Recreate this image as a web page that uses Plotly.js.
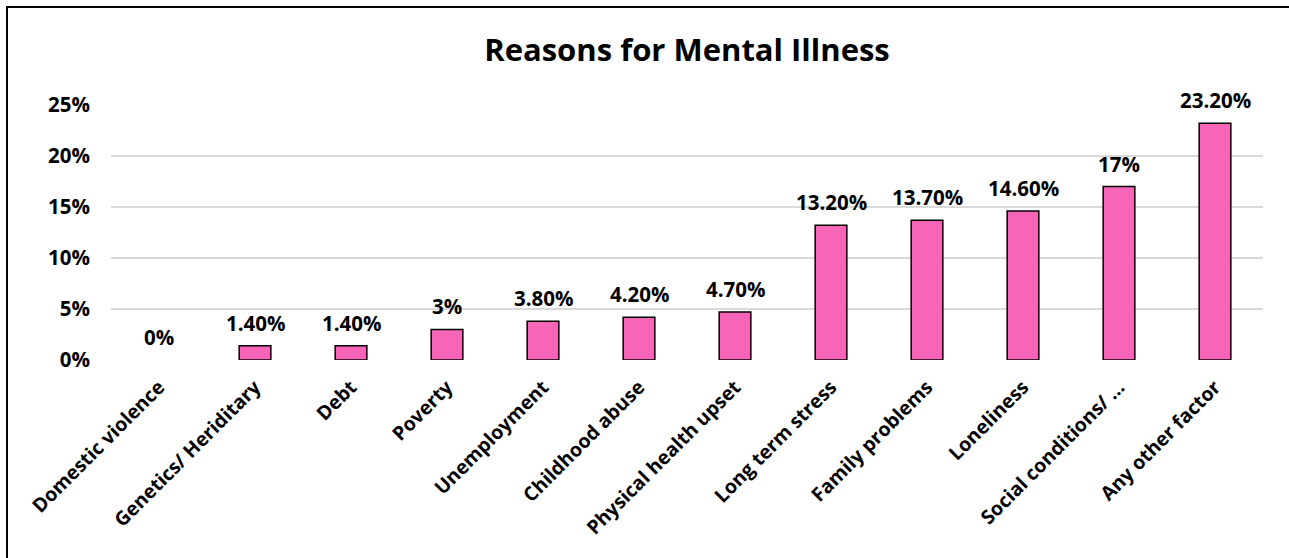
<!DOCTYPE html>
<html>
<head>
<meta charset="utf-8">
<script src="https://cdn.plot.ly/plotly-3.0.1.min.js"></script>
<style>
html,body{margin:0;padding:0;background:#fff;}
#wrap{position:relative;width:1289px;height:558px;overflow:hidden;}
#chart{position:absolute;left:0;top:0;width:1289px;height:558px;}
#frame{position:absolute;left:6px;top:6px;right:-10px;bottom:-10px;border-left:2px solid #000;border-top:2px solid #000;pointer-events:none;}
</style>
</head>
<body>
<div id="wrap"><div id="chart"></div><div id="frame"></div></div>
<script>
const categories = ["Domestic violence","Genetics/ Heriditary","Debt","Poverty","Unemployment","Childhood abuse","Physical health upset","Long term stress","Family problems","Loneliness","Social conditions/ \u2026","Any other factor"];
const values = [0, 1.4, 1.4, 3, 3.8, 4.2, 4.7, 13.2, 13.7, 14.6, 17, 23.2];
const valueLabels = ["0%","1.40%","1.40%","3%","3.80%","4.20%","4.70%","13.20%","13.70%","14.60%","17%","23.20%"];
const yTickVals = [0,5,10,15,20,25];
const yTickText = ["0%","5%","10%","15%","20%","25%"];

const FONT = "'Open Sans', sans-serif";

const trace = {
  type: "bar",
  x: categories,
  y: values,
  marker: {color: "#f765b8", line: {color: "#000", width: values.map(v => v === 0 ? 0 : 1.5)}},
  width: 0.33,
  hoverinfo: "skip"
};

const annotations = categories.map((c,i)=>({
  x: c, y: values[i], xref: "x", yref: "y",
  text: "<b>"+valueLabels[i]+"</b>",
  showarrow: false, yanchor: "bottom", yshift: 7,
  font: {family: FONT, size: 20.5, color: "#000"}
}));

const layout = {
  width: 1289, height: 558,
  margin: {l: 111, r: 26, t: 105, b: 198},
  paper_bgcolor: "#fff", plot_bgcolor: "#fff",
  showlegend: false,
  title: {text: "<b>Reasons for Mental Illness</b>", x: 0.5, xref: "paper", y: 1, yref: "container", yanchor: "top", pad: {t: 39},
    font: {family: FONT, size: 31, color: "#000"}},
  xaxis: {
    type: "category", tickangle: -45, showgrid: false, zeroline: false, showline: false,
    ticks: "", ticklabelstandoff: 11, tickfont: {family: FONT, size: 19.5, color: "#000", weight: "bold"},
    fixedrange: true
  },
  yaxis: {
    range: [0, 25], tickvals: yTickVals, ticktext: yTickText,
    showgrid: true, gridcolor: "#d9d9d9", gridwidth: 1.5, zeroline: false, showline: false,
    ticks: "", ticklen: 0, ticklabelstandoff: 20, tickfont: {family: FONT, size: 20.5, color: "#000", weight: "bold"},
    fixedrange: true
  },
  annotations: annotations
};

Plotly.newPlot("chart", [trace], layout, {staticPlot: true, displayModeBar: false});
</script>
</body>
</html>
